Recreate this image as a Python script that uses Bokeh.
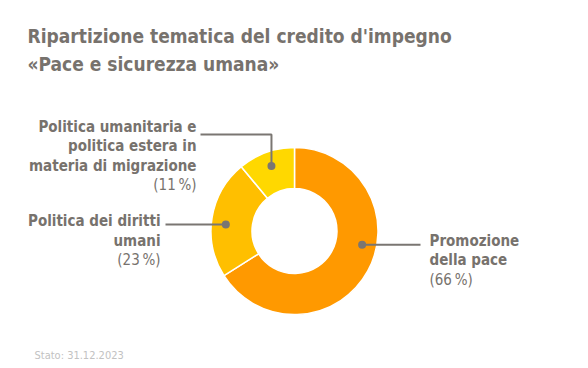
import math
from bokeh.plotting import figure
from bokeh.models import Range1d, ColumnDataSource
from bokeh.core.properties import value
from bokeh.embed import file_html
from bokeh.resources import INLINE

# ---- data ----
categories = ["Promozione della pace", "Politica dei diritti umani",
              "Politica umanitaria e politica estera in materia di migrazione"]
shares = [66, 23, 11]
colors = ["#FF9900", "#FFBF00", "#FFD800"]
label_lines = [["Promozione", "della pace"],
               ["Politica dei diritti", "umani"],
               ["Politica umanitaria e", "politica estera in", "materia di migrazione"]]
title_lines = ["Ripartizione tematica del credito d'impegno", "«Pace e sicurezza umana»"]
footnote = "Stato: 31.12.2023"

# ---- layout (picture pixel coordinates) ----
W, H = 572, 366
def fx(xp): return xp
def fy(yp): return H - yp

FONT = value("'Liberation Sans Narrow', 'DejaVu Sans Condensed', sans-serif")
TXT = "#77726D"

cx, cy = fx(294), fy(230.5)
r_in, r_out = 42.5, 83.5
r_dot = 69
anchor_deg = [-11.5, 174.5, 109.5]

p = figure(width=W, height=H, x_range=Range1d(0, W), y_range=Range1d(0, H),
           output_backend="svg", toolbar_location=None, min_border=0,
           background_fill_color="white", border_fill_color="white")
p.axis.visible = False
p.grid.visible = False
p.outline_line_color = None

# wedges
total = sum(shares)
starts, ends = [], []
cum = 0
for s in shares:
    starts.append(math.pi / 2 - 2 * math.pi * cum / total)
    cum += s
    ends.append(math.pi / 2 - 2 * math.pi * cum / total)
src = ColumnDataSource(dict(start=starts, end=ends, color=colors, cat=categories))
p.annular_wedge(x=cx, y=cy, inner_radius=r_in, outer_radius=r_out,
                start_angle="start", end_angle="end", direction="clock",
                fill_color="color", line_color="white", line_width=1.5, source=src)

# leader lines
dots_x, dots_y = [], []
for a in anchor_deg:
    dots_x.append(cx + r_dot * math.cos(math.radians(a)))
    dots_y.append(cy + r_dot * math.sin(math.radians(a)))
xs = [[dots_x[0], fx(420)],
      [dots_x[1], fx(165)],
      [dots_x[2], dots_x[2], fx(200)]]
ys = [[dots_y[0], dots_y[0]],
      [dots_y[1], dots_y[1]],
      [dots_y[2], fy(134), fy(134)]]
p.multi_line(xs=xs, ys=ys, line_color="#7A7672", line_width=2)
p.scatter(x=dots_x, y=dots_y, size=8, fill_color="#7A7672", line_color=None)

# labels
label_pos = [(fx(429), "left", [240, 259.5, 279]),
             (fx(160), "right", [220.5, 240, 259.5]),
             (fx(196), "right", [126, 145.5, 165, 184.5])]
for (x, align, bases), lines, s in zip(label_pos, label_lines, shares):
    n = len(lines)
    p.text(x=[x] * n, y=[fy(b) for b in bases[:n]], text=lines,
           text_align=align, text_baseline="alphabetic", text_font=FONT,
           text_font_size="15px", text_font_style="bold", text_color=TXT)
    p.text(x=[x], y=[fy(bases[n])], text=[f"({s}\u2009%)"],
           text_align=align, text_baseline="alphabetic", text_font=FONT,
           text_font_size="15px", text_font_style="normal", text_color=TXT)

# title
p.text(x=[fx(27)] * 2, y=[fy(35), fy(63)], text=title_lines,
       text_align="left", text_baseline="alphabetic", text_font=FONT,
       text_font_size="19px", text_font_style="bold", text_color=TXT)

# footnote
p.text(x=[fx(34)], y=[fy(355)], text=[footnote], text_align="left",
       text_baseline="alphabetic", text_font=FONT, text_font_size="11px",
       text_color="#C2C2C2")

open("out.html", "w").write(file_html(p, INLINE))
